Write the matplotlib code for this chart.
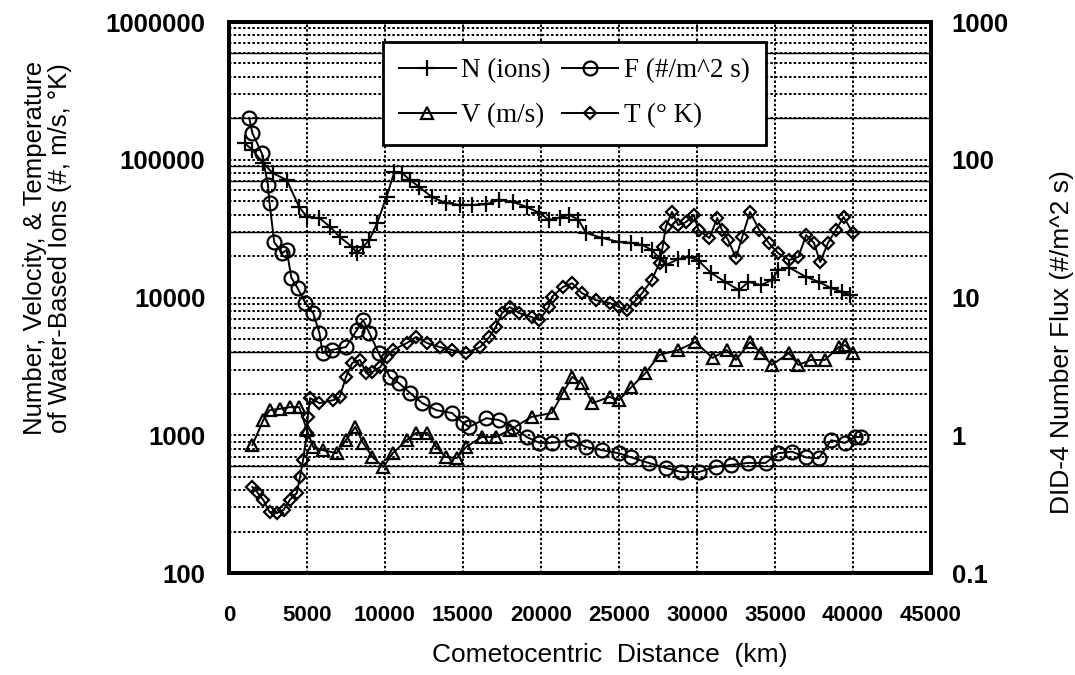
#!/usr/bin/env python3
import matplotlib
matplotlib.use('Agg')
import matplotlib.pyplot as plt
from matplotlib.ticker import LogLocator, NullLocator, FixedLocator

# ---- data ----
N_KM = [1000, 1500, 2200, 2800, 3700, 4500, 5000, 5800, 6500, 7100, 7900, 8200, 8600, 9000, 9500,
        10100, 10600, 11100, 11600, 12200, 13000, 13900, 14800, 15600, 16500, 17300, 18200, 19100,
        19900, 20500, 21200, 21800, 22400, 22900, 23900, 25000, 25800, 26500, 27100, 27600, 28000,
        28800, 29500, 30100, 30900, 31800, 32700, 33300, 34100, 34800, 35200, 35900, 37000, 37800,
        38600, 39300, 39800]
N_IONS = [132000, 118000, 94700, 80100, 71300, 45400, 38400, 37700, 32500, 27500, 23300, 21000, 23300,
          26200, 34800, 53700, 81500, 80000, 71300, 63400, 53700, 48500, 47000, 47000, 47500, 51100,
          49400, 45400, 41100, 36600, 38000, 40000, 36600, 29400, 27100, 25300, 24900, 24100, 22100,
          19400, 17200, 19000, 19700, 18500, 15100, 13000, 11300, 13000, 12300, 13400, 15800, 16500,
          14100, 13000, 11700, 11000, 10400]

F_KM = [1300, 1500, 2100, 2500, 2600, 2900, 3400, 3700, 4000, 4400, 4900, 5400, 5800, 6000, 6600,
        7500, 8200, 8600, 9000, 9600, 10300, 10900, 11600, 12400, 13300, 14300, 15000, 15400, 16500,
        17300, 18200, 19100, 19900, 20700, 22000, 22900, 23900, 25000, 25800, 26900, 28000, 29000,
        30100, 31200, 32200, 33300, 34400, 35200, 36100, 37000, 37800, 38600, 39500, 40100, 40500]
F_FLUX = [201, 156, 112, 65.6, 48.5, 25.3, 21.0, 22.1, 13.9, 11.7, 9.12, 7.71, 5.52, 3.95, 4.16,
          4.37, 5.81, 6.87, 5.52, 3.95, 2.65, 2.39, 2.03, 1.71, 1.52, 1.45, 1.23, 1.15, 1.33, 1.29,
          1.15, 0.97, 0.88, 0.88, 0.92, 0.82, 0.78, 0.74, 0.69, 0.63, 0.58, 0.54, 0.54, 0.59, 0.61,
          0.63, 0.63, 0.74, 0.76, 0.69, 0.68, 0.92, 0.88, 0.97, 0.97]

V_KM = [1500, 2200, 2600, 3300, 3900, 4500, 5000, 5400, 6000, 6900, 7500, 8100, 8600, 9200, 9900,
        10500, 11400, 12000, 12700, 13300, 13900, 14600, 15200, 16200, 17100, 18000, 19400, 20700,
        21400, 22000, 22600, 23300, 24400, 25000, 25800, 26700, 27600, 28800, 29900, 31000, 31900,
        32500, 33400, 34100, 34800, 35900, 36500, 37300, 38200, 39100, 39500, 40000]
V_MS = [849, 1290, 1520, 1560, 1600, 1600, 1090, 822, 780, 741, 924, 1150, 879, 695, 588,
        741, 924, 1040, 1040, 822, 695, 683, 822, 971, 971, 1090, 1360, 1450, 2030, 2650, 2390,
        1710, 1900, 1800, 2240, 2830, 3830, 4160, 4750, 3640, 4160, 3520, 4750, 3950, 3240, 3950,
        3240, 3520, 3520, 4370, 4520, 3950]

T_KM = [1500, 1800, 2200, 2600, 3100, 3500, 3900, 4350, 4550, 4750, 5000, 5050, 5200, 5800, 6700,
        7100, 7500, 7900, 8400, 8800, 9200, 9700, 10100, 10500, 11400, 12000, 12700, 13500, 14300,
        15200, 16100, 16700, 17100, 17500, 18000, 18600, 19400, 19900, 20500, 20700, 21400, 22000,
        22600, 23500, 24400, 25000, 25500, 26100, 26500, 27100, 27600, 27800, 28000, 28400, 28800,
        29300, 29800, 30100, 30800, 31300, 31600, 32000, 32500, 32900, 33400, 34000, 34600, 35200,
        35900, 36500, 37000, 37500, 37900, 38400, 38900, 39400, 40000]
T_K = [421, 387, 339, 277, 273, 287, 339, 381, 497, 661, 1040, 1360, 1860, 1710, 1800,
       1900, 2650, 3350, 3520, 2830, 2880, 3130, 3700, 4160, 4670, 5170, 4670, 4370, 4160,
       3950, 4370, 5170, 6110, 7710, 8530, 7710, 7210, 6870, 8530, 10100, 11900, 12700,
       10800, 9590, 9120, 8530, 8110, 9590, 10800, 13400, 17800, 23300, 32500, 41800, 33600,
       35300, 39700, 30900, 27000, 37800, 30900, 26100, 19400, 27500, 41800, 30900, 24900, 21000,
       18700, 19700, 28400, 24900, 18100, 24900, 30900, 38400, 29400]

X_TICKS = [0, 5000, 10000, 15000, 20000, 25000, 30000, 35000, 40000, 45000]
LEFT_TICKS = [100, 1000, 10000, 100000, 1000000]
LEFT_LABELS = ['100', '1000', '10000', '100000', '1000000']
RIGHT_TICKS = [0.1, 1, 10, 100, 1000]
RIGHT_LABELS = ['0.1', '1', '10', '100', '1000']
# rows of the minor grid that print solid in the scan
SOLID_ROWS = [600000, 200000, 90000, 70000, 30000, 4000, 600]

DOTS = (0, (1.3, 1.1))


def main():
    plt.rcParams['font.family'] = ['Liberation Sans', 'DejaVu Sans']
    fig = plt.figure(figsize=(10.75, 6.75), dpi=100)
    ax = fig.add_axes([0.2130, 0.1511, 0.6530, 0.8163])

    ax.set_yscale('log')
    ax.set_xlim(0, 45000)
    ax.set_ylim(100, 1000000)
    ax.set_xticks(X_TICKS)
    ax.set_xticklabels([str(t) for t in X_TICKS], fontsize=16, fontweight='bold')
    ax.yaxis.set_major_locator(FixedLocator(LEFT_TICKS))
    ax.set_yticklabels(LEFT_LABELS, fontsize=18.5, fontweight='bold')
    ax.yaxis.set_minor_locator(LogLocator(base=10, subs=range(2, 10)))
    ax.tick_params(axis='both', which='both', length=0)
    ax.tick_params(axis='y', pad=17)
    ax.tick_params(axis='x', pad=23)

    ax.set_axisbelow(True)
    ax.grid(True, which='major', axis='x', color='black', linestyle=DOTS, linewidth=1.4)
    ax.grid(True, which='both', axis='y', color='black', linestyle=DOTS, linewidth=1.4)
    for v in SOLID_ROWS:
        ax.axhline(v, color='black', linewidth=1.0, zorder=0.6)

    line_kw = dict(color='black', linewidth=1.4, markerfacecolor='none', markeredgecolor='black')
    hN, = ax.plot(N_KM, N_IONS, marker='+', markersize=11, markeredgewidth=1.6, **line_kw)
    hV, = ax.plot(V_KM, V_MS, marker='^', markersize=8.5, markeredgewidth=1.6, **line_kw)
    hT, = ax.plot(T_KM, T_K, marker='D', markersize=6.5, markeredgewidth=1.6, **line_kw)

    ax2 = ax.twinx()
    ax2.set_yscale('log')
    ax2.set_ylim(0.1, 1000)
    ax2.yaxis.set_major_locator(FixedLocator(RIGHT_TICKS))
    ax2.yaxis.set_minor_locator(NullLocator())
    ax2.set_yticklabels(RIGHT_LABELS, fontsize=18.5, fontweight='bold')
    ax2.tick_params(axis='y', which='both', length=0, pad=15)
    hF, = ax2.plot(F_KM, F_FLUX, marker='o', markersize=10, markeredgewidth=1.6, **line_kw)

    for a in (ax, ax2):
        for sp in a.spines.values():
            sp.set_linewidth(2.8)
            sp.set_color('black')

    leg = ax2.legend([hN, hV, hF, hT], ['N (ions)', 'V (m/s)', 'F (#/m^2 s)', 'T (° K)'],
                     ncol=2, loc='upper left', bbox_to_anchor=(0.219, 0.964), borderaxespad=0,
                     prop={'family': 'Liberation Serif', 'size': 19.5}, handlelength=2.1,
                     handletextpad=0.2, columnspacing=0.4, labelspacing=0.75,
                     borderpad=0.6, fancybox=False, framealpha=1, edgecolor='black')
    leg.get_frame().set_linewidth(2.0)

    fig.text(0.567, 0.030, 'Cometocentric  Distance  (km)', ha='center', va='center', fontsize=19)
    fig.text(0.044, 0.632, 'Number, Velocity, & Temperature\nof Water-Based Ions (#, m/s, °K)',
             rotation=90, ha='center', va='center', fontsize=18.5, multialignment='center',
             linespacing=1.05)
    fig.text(0.988, 0.493, 'DID-4 Number Flux (#/m^2 s)', rotation=90, ha='center', va='center',
             fontsize=19)

    fig.savefig('out.png', dpi=100)


if __name__ == '__main__':
    main()
